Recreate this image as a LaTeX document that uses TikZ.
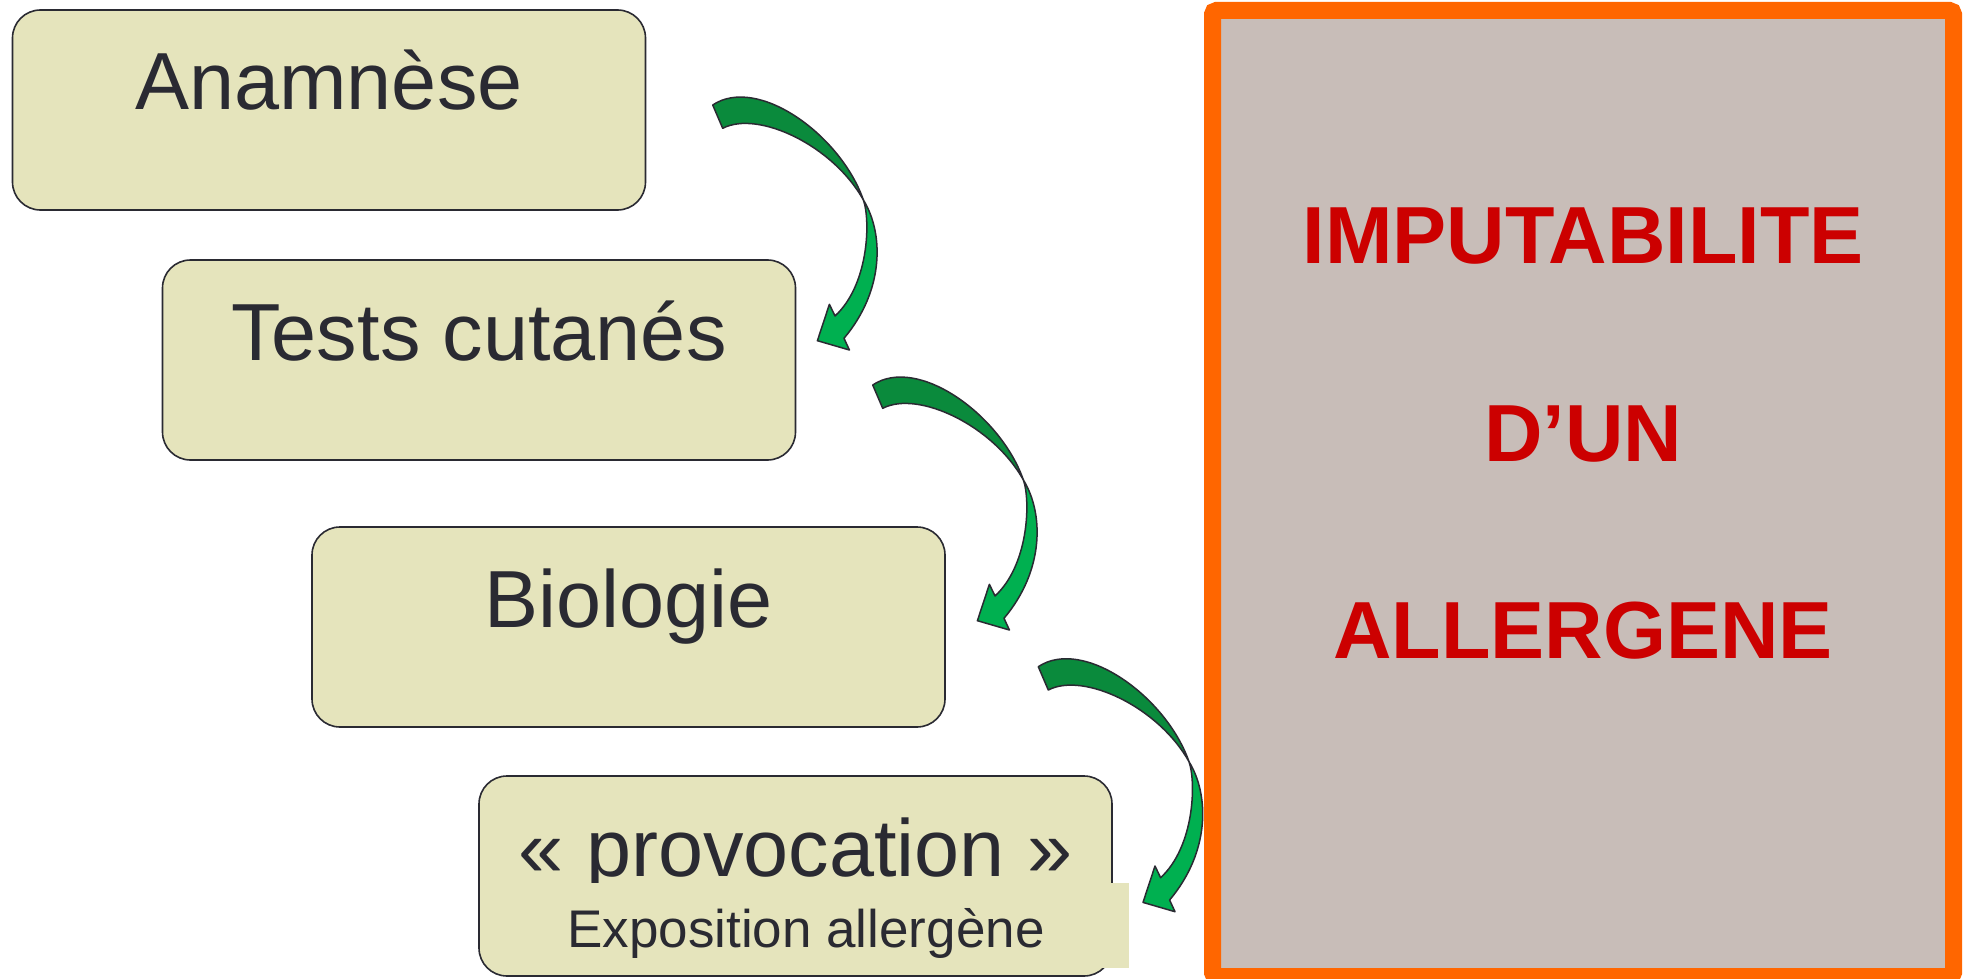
\documentclass[tikz,border=0pt]{standalone}
\usepackage{fontspec}
\setmainfont{Liberation Sans}
\usepackage{tikz}

\definecolor{boxfill}{HTML}{E5E4BC}
\definecolor{inkgray}{HTML}{2A2A32}
\definecolor{darkgreen}{HTML}{0A8A3C}
\definecolor{lightgreen}{HTML}{00B050}
\definecolor{framefill}{HTML}{C8BDB8}
\definecolor{frameorange}{HTML}{FF6600}
\definecolor{titlered}{HTML}{CC0000}

\begin{document}
\begin{tikzpicture}[x=1pt, y=-1pt,
  stepbox/.style={draw=inkgray, line width=1.6pt, fill=boxfill, rounded corners=28pt,
    minimum width=633pt, inner xsep=0pt, inner ysep=0pt,
    text height=100pt, text depth=100pt, text=inkgray, font=\fontsize{81}{97}\selectfont},
  framebox/.style={draw=frameorange, fill=framefill, line width=17pt, rounded corners=4pt,
    minimum width=741pt, minimum height=966pt},
  redline/.style={anchor=base, text=titlered, font=\bfseries\fontsize{81}{97}\selectfont},
  ribbon/.pic={
    % 上半段（深绿）
    \filldraw[fill=darkgreen, draw=inkgray, line width=1.5pt, line join=round]
      (0,0) .. controls (45,-30) and (128,30) .. (150.7,95)
      .. controls (120,40) and (45,5) .. (10,23.3) -- cycle;
    % 下半段与箭头（浅绿）
    \filldraw[fill=lightgreen, draw=inkgray, line width=1.5pt, line join=round]
      (150.7,95) .. controls (158,116) and (156,180) .. (122.3,211)
      -- (116.7,199.3) -- (104.7,235.7) -- (136.7,245) -- (131.3,233.3)
      .. controls (172,185) and (171,128) .. (150.7,95) -- cycle;
  }]
  % 画布范围
  \useasboundingbox (0,0) rectangle (1971,979);
  \clip (0,0) rectangle (1971,979);
  \fill[white] (0,0) rectangle (1971,979);

  % 四个步骤框
  \node[stepbox] (anam) at (329,110) {Anamnèse};
  \node[stepbox] (tests) at (479,360) {Tests cutanés};
  \node[stepbox] (bio) at (628.5,627) {Biologie};
  \node[stepbox] (provoc) at (795.5,876) {« provocation »};

  % 第二行文字及其底块
  \fill[boxfill] (553,883) rectangle (1129,968);
  \node[anchor=base, text=inkgray, font=\fontsize{53}{64}\selectfont] (expo) at (806,947) {Exposition allergène};

  % 弯曲箭头
  \pic at (712.7,105) {ribbon};
  \pic at (872.7,385) {ribbon};
  \pic at (1038.3,666.7) {ribbon};

  % 右侧结论框
  \node[framebox] (verdict) at (1583,493.5) {};
  \node[redline] (imp) at (1583,263) {IMPUTABILITE};
  \node[redline] (dun) at (1583,461) {D’UN};
  \node[redline] (allerg) at (1583,658) {ALLERGENE};
\end{tikzpicture}
\end{document}
